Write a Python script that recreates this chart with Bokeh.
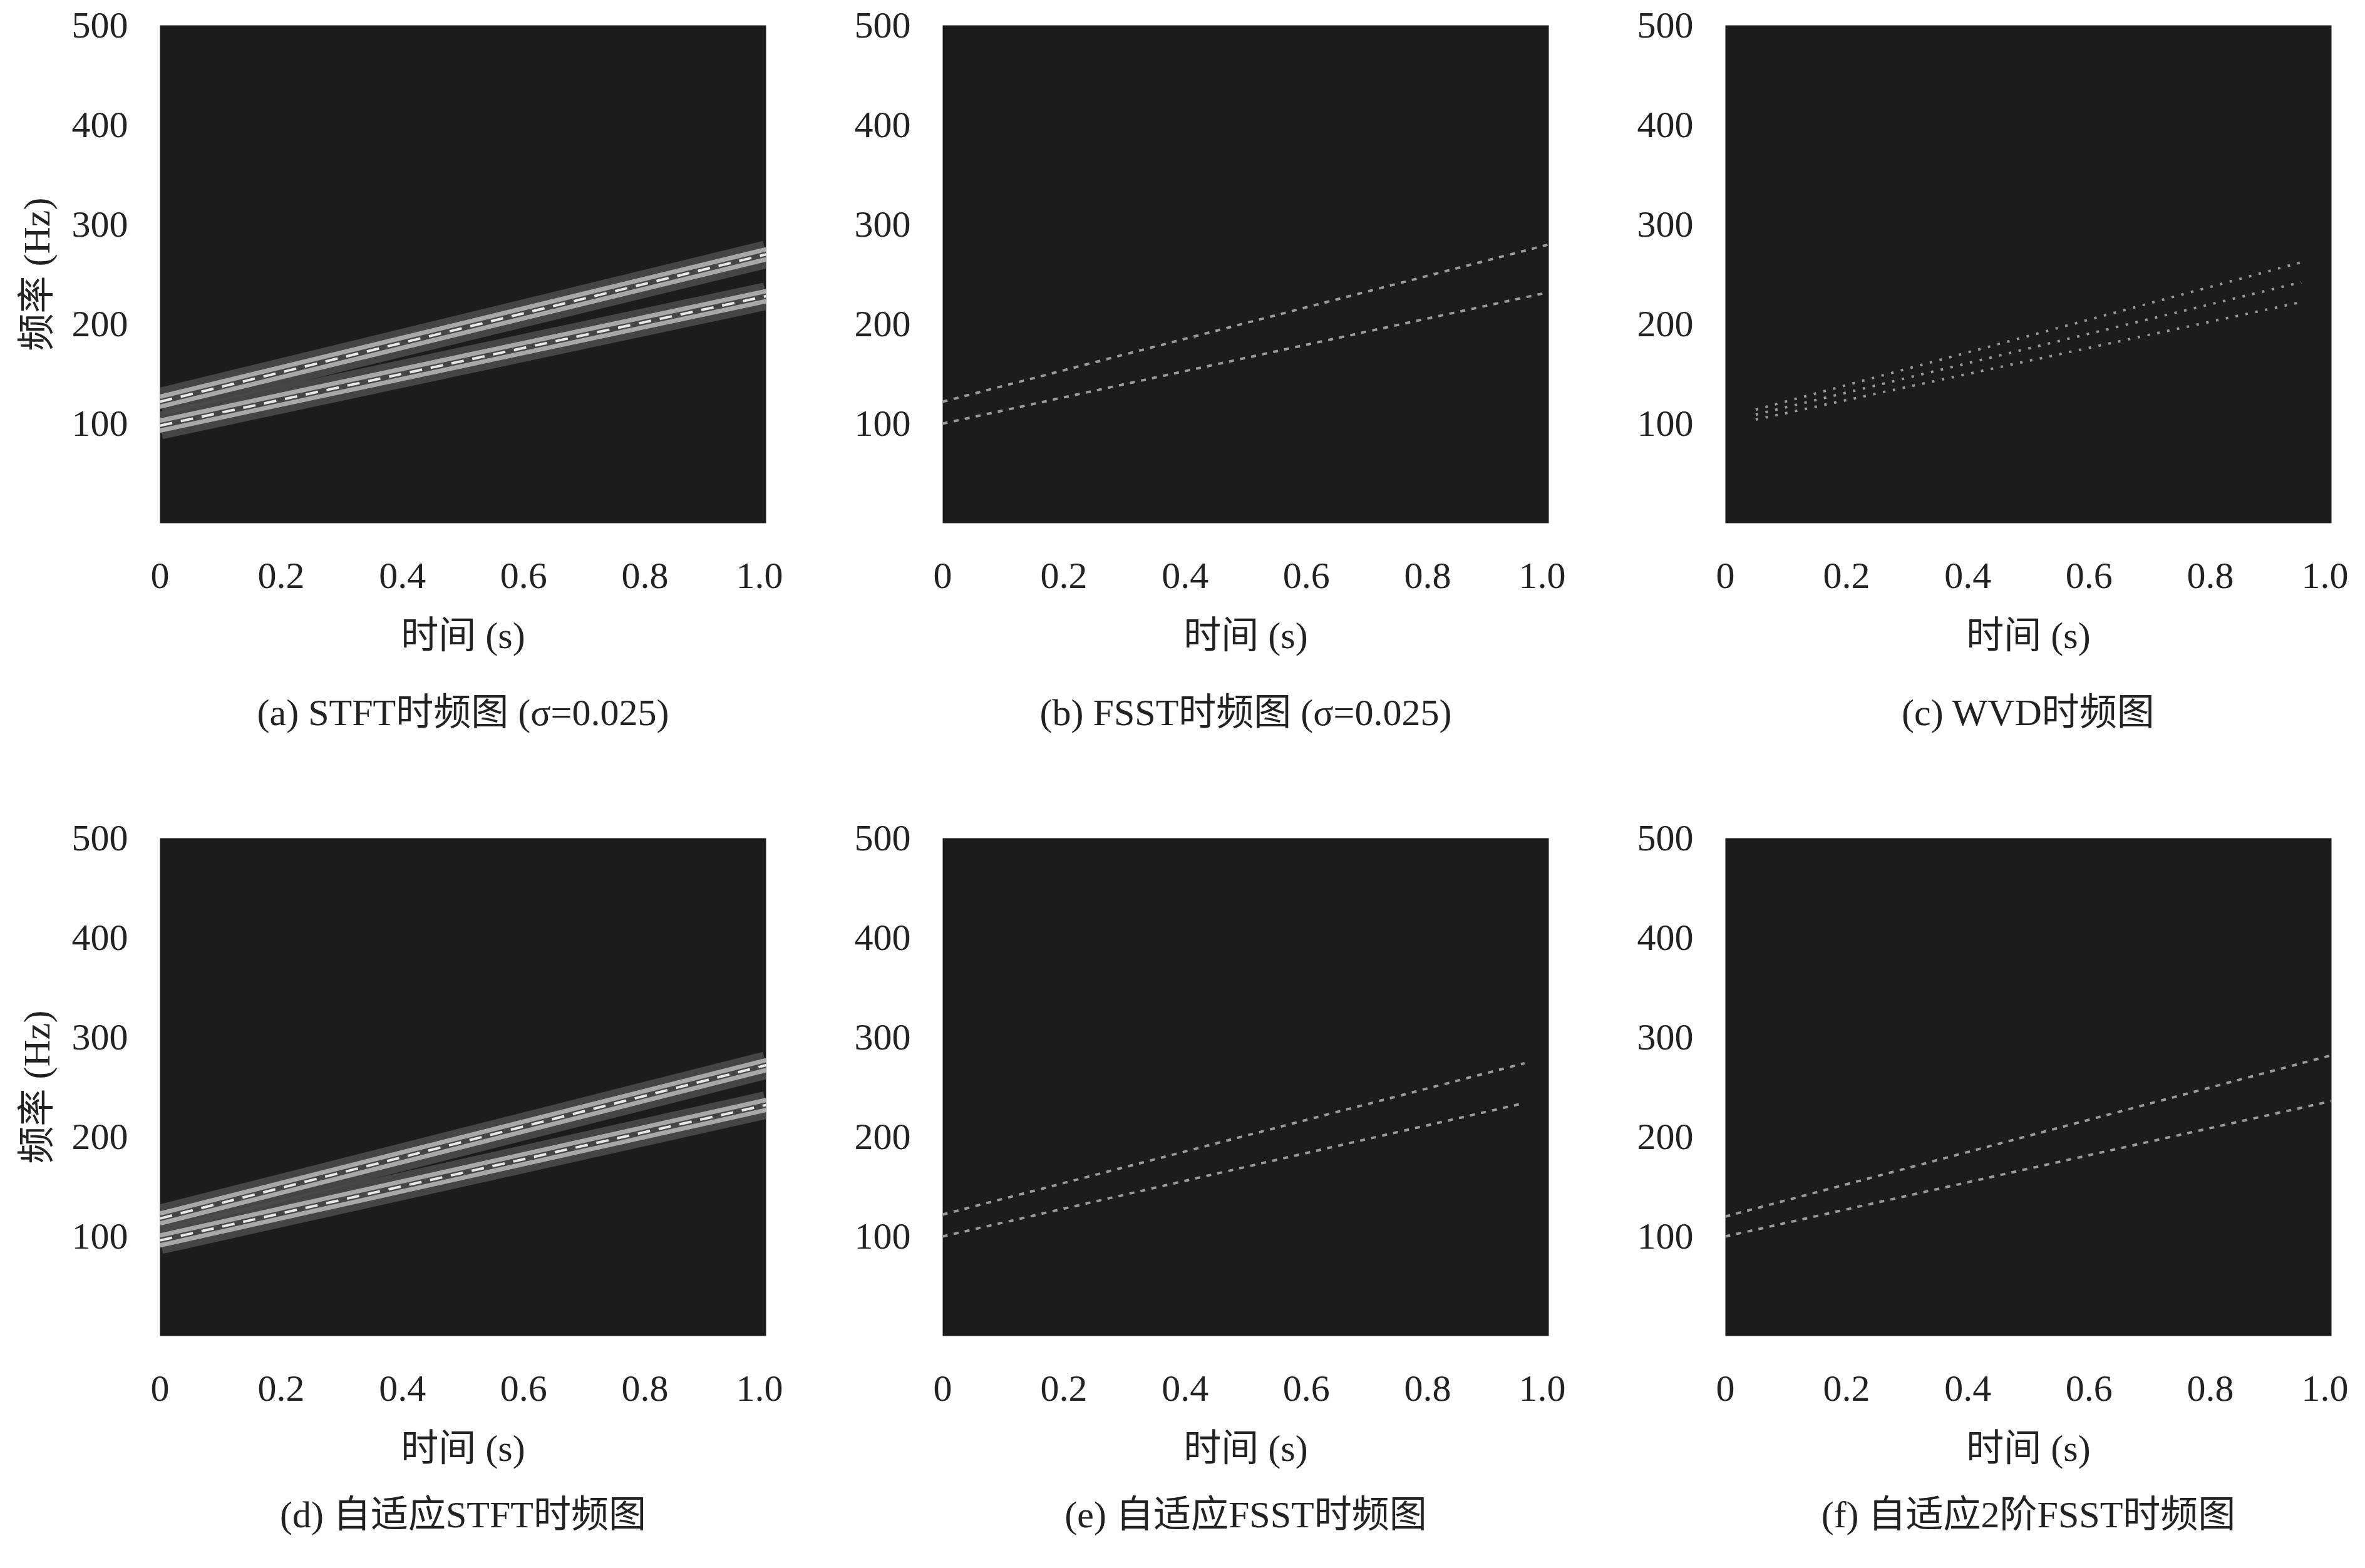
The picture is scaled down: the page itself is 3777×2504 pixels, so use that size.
from bokeh.plotting import figure
from bokeh.layouts import gridplot
from bokeh.models import Title
from bokeh.embed import file_html
from bokeh.resources import INLINE

FONT = "Liberation Serif, Noto Sans CJK SC"
captions = ["(a) STFT时频图 (σ=0.025)", "(b) FSST时频图 (σ=0.025)", "(c) WVD时频图",
            "(d) 自适应STFT时频图", "(e) 自适应FSST时频图", "(f) 自适应2阶FSST时频图"]
x_ticks = [0, 0.2, 0.4, 0.6, 0.8, 1.0]
y_ticks = [100, 200, 300, 400, 500]

# component lines per panel: (t0, t1, f0, f1)
comp_a = [(0.0, 1.0, 122, 270), (0.0, 1.0, 98, 228)]
comp_b = [(0.0, 1.0, 122, 280), (0.0, 1.0, 100, 232)]
comp_c = [(0.05, 0.95, 114, 262), (0.05, 0.95, 104, 222), (0.05, 0.95, 109, 242)]
comp_d = [(0.0, 1.0, 118, 272), (0.0, 1.0, 96, 232)]
comp_e = [(0.0, 0.96, 122, 274), (0.0, 0.96, 100, 234)]
comp_f = [(0.0, 1.0, 120, 282), (0.0, 1.0, 100, 236)]
comps = [comp_a, comp_b, comp_c, comp_d, comp_e, comp_f]
kinds = ["stft", "fsst", "wvd", "stft", "fsst", "fsst"]

figs = []
for i in range(6):
    row, col = divmod(i, 3)
    p = figure(frame_width=968, frame_height=795, x_range=(0, 1), y_range=(0, 500),
               output_backend="svg", toolbar_location=None,
               min_border_left=255, min_border_right=27, min_border_top=40,
               min_border_bottom=463 if row == 0 else 0)
    p.background_fill_color = "#1c1c1c"
    p.border_fill_color = "white"
    p.outline_line_color = None
    p.grid.visible = False
    for ax in (p.xaxis[0], p.yaxis[0]):
        ax.axis_line_color = None
        ax.major_tick_line_color = None
        ax.minor_tick_line_color = None
        ax.major_label_text_font = FONT
        ax.major_label_text_font_size = "60px"
        ax.major_label_text_color = "#222222"
        ax.axis_label_text_font = FONT
        ax.axis_label_text_font_size = "60px"
        ax.axis_label_text_font_style = "normal"
        ax.axis_label_text_color = "#222222"
    p.xaxis.ticker = x_ticks
    p.yaxis.ticker = y_ticks
    p.xaxis.major_label_overrides = {0: "0", 1.0: "1.0"}
    p.xaxis.major_label_standoff = 58
    p.yaxis.major_label_standoff = 45
    p.xaxis.axis_label = "时间 (s)"
    p.xaxis.axis_label_standoff = 40
    if col == 0:
        p.yaxis.axis_label = "频率 (Hz)"
        p.yaxis.axis_label_standoff = 20
    for (t0, t1, f0, f1) in comps[i]:
        if kinds[i] == "stft":
            p.line([t0, t1], [f0, f1], line_width=44, color="#4a4a4a", alpha=0.9)
            p.line([t0, t1], [f0 + 5, f1 + 5], line_width=7, color="#a8a8a8")
            p.line([t0, t1], [f0 - 5, f1 - 5], line_width=7, color="#a8a8a8")
            p.line([t0, t1], [f0, f1], line_width=4, color="#e8e8e8", line_dash="20 14")
        elif kinds[i] == "fsst":
            p.line([t0, t1], [f0, f1], line_width=4, color="#aaaaaa", line_dash="8 10", alpha=0.9)
        else:
            p.line([t0, t1], [f0, f1], line_width=4, color="#999999", line_dash="4 12")
    p.add_layout(Title(text=captions[i], text_font=FONT, text_font_size="60px",
                       text_font_style="normal", text_color="#222222",
                       align="center", standoff=105 if row == 0 else 70), "below")
    figs.append(p)

g = gridplot(figs, ncols=3, toolbar_location=None)
open("out.html", "w").write(file_html(g, INLINE))
